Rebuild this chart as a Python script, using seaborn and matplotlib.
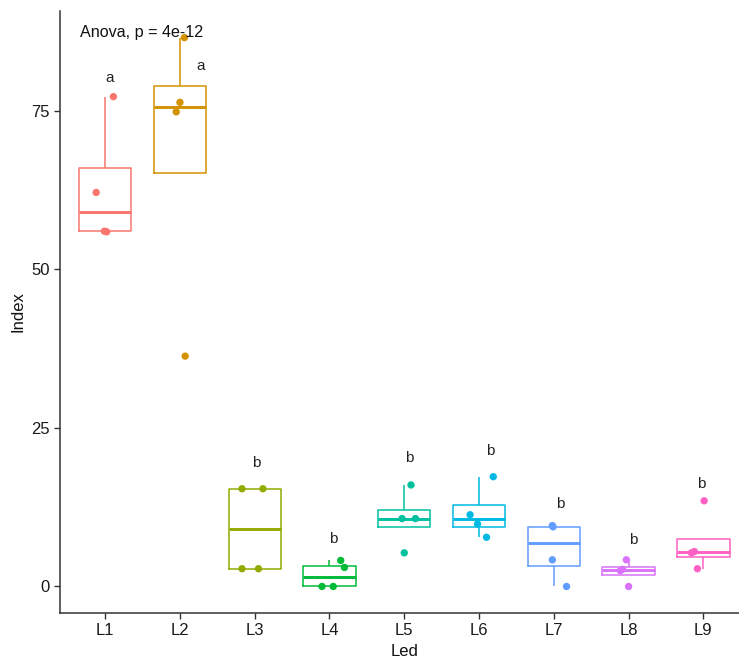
import numpy as np
import pandas as pd
import matplotlib
matplotlib.use("Agg")
import matplotlib.pyplot as plt
import seaborn as sns

# LED treatments and measured index values (four replicates each)
leds = ["L1", "L2", "L3", "L4", "L5", "L6", "L7", "L8", "L9"]
L1 = [77.2, 62.1, 56.0, 55.9]
L2 = [86.5, 76.3, 74.8, 36.3]
L3 = [15.4, 15.4, 2.8, 2.8]
L4 = [4.1, 3.0, 0.0, 0.0]
L5 = [16.0, 10.7, 10.7, 5.3]
L6 = [17.3, 11.3, 9.85, 7.75]
L7 = [9.6, 9.4, 4.2, 0.0]
L8 = [4.2, 2.7, 2.5, 0.0]
L9 = [13.5, 5.5, 5.3, 2.8]
values = [L1, L2, L3, L4, L5, L6, L7, L8, L9]

# horizontal jitter of the replicate points (in category widths)
jitter = [
    [0.11, -0.12, -0.01, 0.02],
    [0.06, 0.00, -0.05, 0.07],
    [-0.17, 0.11, -0.17, 0.05],
    [0.15, 0.20, -0.10, 0.05],
    [0.09, -0.03, 0.15, 0.00],
    [0.19, -0.12, -0.02, 0.10],
    [-0.02, -0.01, -0.02, 0.17],
    [-0.03, -0.08, -0.11, 0.00],
    [0.01, -0.12, -0.16, -0.08],
]

# Tukey grouping letters and their label heights
letters = ["a", "a", "b", "b", "b", "b", "b", "b", "b"]
letter_y = [80.2, 82.0, 19.5, 7.5, 20.3, 21.4, 13.0, 7.4, 16.1]
letter_dx = [0.06, 0.28, 0.02, 0.05, 0.06, 0.15, 0.08, 0.06, -0.03]

anova_label = "Anova, p = 4e-12"

palette = ["#F8766D", "#D39200", "#93AA00", "#00BA38", "#00C19F",
           "#00B9E3", "#619CFF", "#DB72FB", "#FF61C3"]

rows = []
for i, (led, vals) in enumerate(zip(leds, values)):
    for v, dx in zip(vals, jitter[i]):
        rows.append({"Led": led, "Index": v, "xpos": i + dx})
df = pd.DataFrame(rows)

sns.set_theme(style="ticks")
plt.rcParams["font.family"] = ["Liberation Sans", "DejaVu Sans"]

fig = plt.figure(figsize=(7.39, 6.61), dpi=100)
ax = fig.add_axes([0.0816, 0.0731, 0.9309, 0.9103])

sns.boxplot(data=df, x="Led", y="Index", hue="Led", order=leds,
            hue_order=leds, palette=palette, fill=False, width=0.7,
            showfliers=False, showcaps=False, linewidth=1.1,
            medianprops={"linewidth": 2.1}, legend=False, ax=ax)

sns.scatterplot(data=df, x="xpos", y="Index", hue="Led", hue_order=leds,
                palette=palette, s=28, linewidth=0, legend=False,
                zorder=3, ax=ax)

for i, (lab, ly, dx) in enumerate(zip(letters, letter_y, letter_dx)):
    ax.text(i + dx, ly, lab, ha="center", va="center", fontsize=11,
            color="#222222")

ax.text(-0.34, 87.3, anova_label, ha="left", va="center", fontsize=11.6,
        color="#111111")

ax.set_xlim(-0.6, 8.6)
ax.set_ylim(-4.13, 90.7)
ax.set_yticks([0, 25, 50, 75])
ax.set_xticks(range(len(leds)))
ax.set_xticklabels(leds)
ax.set_xlabel("Led", fontsize=12, color="#111111")
ax.set_ylabel("Index", fontsize=12, color="#111111")
ax.tick_params(axis="both", labelsize=12, colors="#333333",
               labelcolor="#1a1a1a", length=4, width=1)
for side in ("top", "right"):
    ax.spines[side].set_visible(False)
for side in ("left", "bottom"):
    ax.spines[side].set_color("#333333")
    ax.spines[side].set_linewidth(1.1)

fig.savefig("out.png", dpi=100)
